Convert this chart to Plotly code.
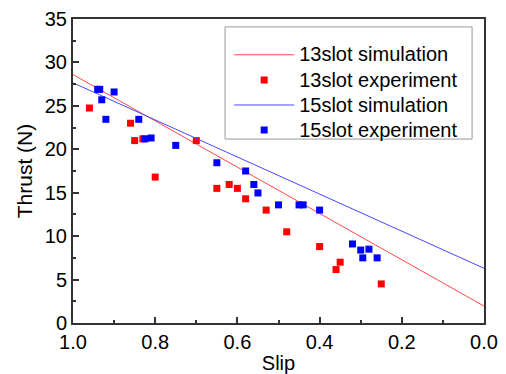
import plotly.graph_objects as go

# Simulation lines (slip endpoints and thrust)
slip_sim = [1.0, 0.0]
thrust13_sim = [28.6, 1.95]
thrust15_sim = [27.65, 6.3]

# 13slot experiment
slip13_exp = [0.96, 0.86, 0.85, 0.83, 0.80, 0.70, 0.65, 0.62, 0.60, 0.58, 0.53, 0.48, 0.40, 0.36, 0.35, 0.25]
thrust13_exp = [24.75, 23.0, 21.0, 21.2, 16.8, 21.0, 15.5, 15.95, 15.5, 14.3, 13.0, 10.5, 8.8, 6.15, 7.0, 4.5]

# 15slot experiment
slip15_exp = [0.94, 0.935, 0.93, 0.92, 0.90, 0.84, 0.825, 0.81, 0.75, 0.65, 0.58, 0.56, 0.55, 0.50,
              0.45, 0.44, 0.40, 0.32, 0.30, 0.28, 0.295, 0.26]
thrust15_exp = [26.9, 26.9, 25.7, 23.45, 26.6, 23.45, 21.2, 21.3, 20.45, 18.45, 17.5, 15.95, 14.97, 13.6,
                13.6, 13.6, 13.0, 9.1, 8.4, 8.5, 7.5, 7.5]

x_ticks = [1.0, 0.8, 0.6, 0.4, 0.2, 0.0]
y_ticks = [0, 5, 10, 15, 20, 25, 30, 35]

def big(s):
    return '<span style="font-size:20px">' + s + '</span>'

fig = go.Figure()
fig.add_trace(go.Scatter(x=slip_sim, y=thrust13_sim, mode="lines", name=big("13slot simulation"),
                         line=dict(color="#ff4848", width=1)))
fig.add_trace(go.Scatter(x=slip13_exp, y=thrust13_exp, mode="markers", name=big("13slot experiment"),
                         marker=dict(symbol="square", color="#ff0000", size=7, line=dict(width=0))))
fig.add_trace(go.Scatter(x=slip_sim, y=thrust15_sim, mode="lines", name=big("15slot simulation"),
                         line=dict(color="#4848ff", width=1)))
fig.add_trace(go.Scatter(x=slip15_exp, y=thrust15_exp, mode="markers", name=big("15slot experiment"),
                         marker=dict(symbol="square", color="#0000ff", size=7, line=dict(width=0))))

font = "Liberation Sans, Arial, sans-serif"
fig.update_layout(
    width=506, height=374,
    margin=dict(l=73, r=22, t=19, b=51),
    paper_bgcolor="white", plot_bgcolor="white",
    font=dict(family=font, color="black", size=20),
    showlegend=True,
    legend=dict(x=0.38, y=0.94, xanchor="left", yanchor="top",
                borderwidth=0, bgcolor="rgba(0,0,0,0)",
                font=dict(size=17, family=font), tracegroupgap=0,
                itemwidth=60),
    shapes=[dict(type="rect", xref="paper", yref="paper", x0=0.370, x1=0.971, y0=0.605, y1=0.974,
                 line=dict(color="#999999", width=1), fillcolor="rgba(0,0,0,0)", layer="above")],
    xaxis=dict(range=[1.0, 0.0], tickvals=x_ticks, tickformat=".1f",
               title=dict(text="Slip", font=dict(size=20), standoff=6),
               showline=True, linecolor="#333333", linewidth=2, mirror=True,
               ticks="inside", ticklen=6, tickwidth=1.5, tickcolor="#333333",
               minor=dict(ticks="inside", ticklen=3, dtick=0.1, tickcolor="#333333", tickwidth=1.5),
               showgrid=False, zeroline=False, tickfont=dict(size=20), automargin=False),
    yaxis=dict(range=[0, 35], tickvals=y_ticks,
               title=dict(text="Thrust (N)", font=dict(size=21), standoff=6),
               showline=True, linecolor="#333333", linewidth=2, mirror=True,
               ticks="inside", ticklen=6, tickwidth=1.5, tickcolor="#333333",
               minor=dict(ticks="inside", ticklen=3, dtick=2.5, tickcolor="#333333", tickwidth=1.5),
               showgrid=False, zeroline=False, tickfont=dict(size=20), automargin=False),
)

fig.write_html("out.html")
